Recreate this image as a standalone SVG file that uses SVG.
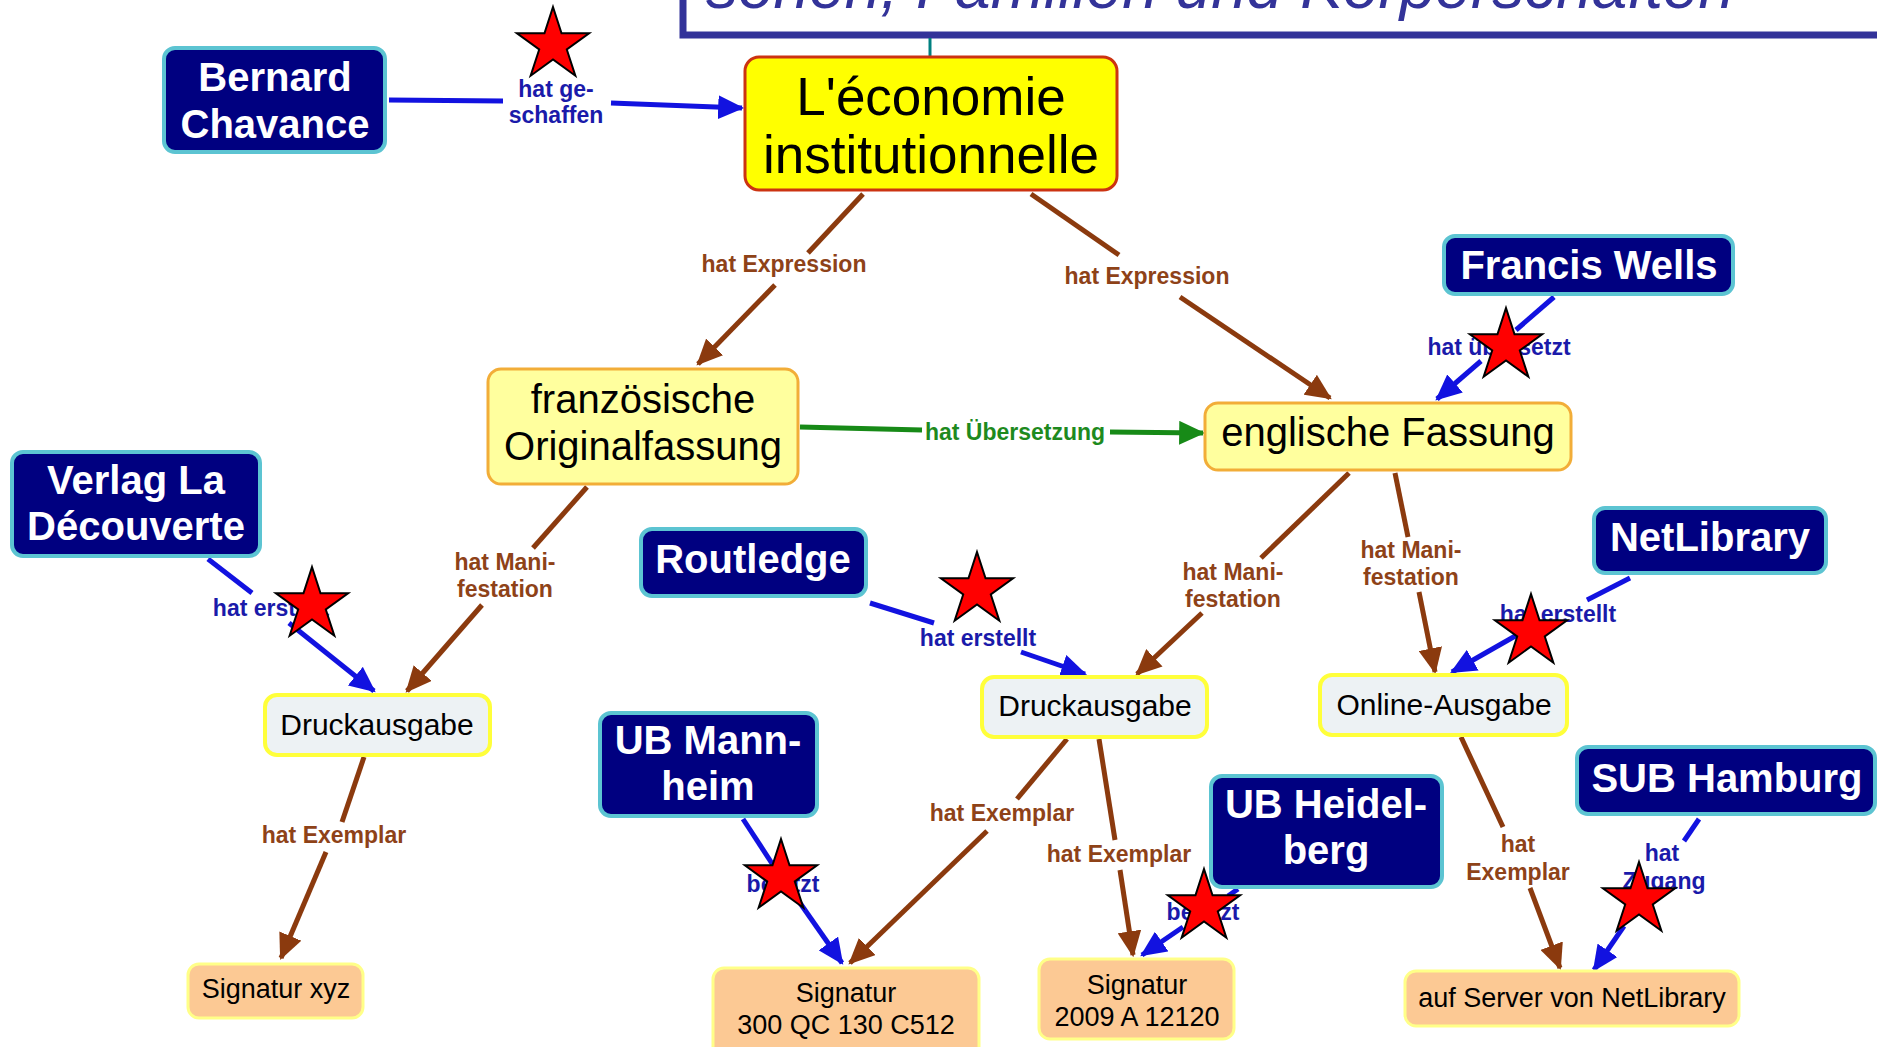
<svg xmlns="http://www.w3.org/2000/svg" width="1877" height="1047" viewBox="0 0 1877 1047">
<defs>
<style>
.dk{fill:#000080;stroke:#5cc4d2;stroke-width:4}
.dkt{fill:#ffffff;font-family:"Liberation Sans",Arial,sans-serif;font-weight:bold;font-size:40px;text-anchor:middle}
.yl{fill:#ffff9e;stroke:#f2ad38;stroke-width:3}
.ylt{fill:#000;font-family:"Liberation Sans",Arial,sans-serif;font-size:40px;text-anchor:middle}
.gr{fill:#edf2f4;stroke:#ffff3a;stroke-width:4}
.grt{fill:#000;font-family:"Liberation Sans",Arial,sans-serif;font-size:30px;text-anchor:middle}
.pc{fill:#fcc994;stroke:#ffff88;stroke-width:3}
.pct{fill:#000;font-family:"Liberation Sans",Arial,sans-serif;font-size:27px;text-anchor:middle}
.lb{fill:none;stroke:#8b3a0e;stroke-width:5}
.lu{fill:none;stroke:#1212e0;stroke-width:5}
.lg{fill:none;stroke:#178a17;stroke-width:5}
.tb{fill:#8e4218;font-family:"Liberation Sans",Arial,sans-serif;font-weight:bold;font-size:23px;text-anchor:middle}
.tu{fill:#1a1aaa;font-family:"Liberation Sans",Arial,sans-serif;font-weight:bold;font-size:23px;text-anchor:middle}
.tg{fill:#1e8a1e;font-family:"Liberation Sans",Arial,sans-serif;font-weight:bold;font-size:23px;text-anchor:middle}
.star{fill:#ff0000;stroke:#000;stroke-width:2}
</style>
<marker id="ab" viewBox="0 0 24 22" refX="22" refY="11" markerWidth="26" markerHeight="24" markerUnits="userSpaceOnUse" orient="auto"><path d="M0,0 L24,11 L0,22 Z" fill="#8b3a0e"/></marker>
<marker id="au" viewBox="0 0 24 22" refX="22" refY="11" markerWidth="26" markerHeight="24" markerUnits="userSpaceOnUse" orient="auto"><path d="M0,0 L24,11 L0,22 Z" fill="#1212e0"/></marker>
<marker id="ag" viewBox="0 0 24 22" refX="22" refY="11" markerWidth="26" markerHeight="24" markerUnits="userSpaceOnUse" orient="auto"><path d="M0,0 L24,11 L0,22 Z" fill="#178a17"/></marker>
<polygon id="st" class="star" points="0,-38 8.52,-11.73 36.14,-11.74 13.79,4.48 22.34,30.74 0,14.5 -22.34,30.74 -13.79,4.48 -36.14,-11.74 -8.52,-11.73"/>
</defs>
<rect width="1877" height="1047" fill="#ffffff"/>

<g id="header">
<rect x="683" y="-60" width="1260" height="95" fill="#ffffff" stroke="#333399" stroke-width="7"/>
<text x="706" y="8" fill="#333399" font-family="'Liberation Sans',Arial,sans-serif" font-style="italic" font-size="64">sonen, Familien und Körperschaften</text>
</g>

<g id="connectors">
<line x1="930" y1="38" x2="930" y2="57" stroke="#008080" stroke-width="3"/>
<path class="lu" d="M389,100 L503,101"/>
<path class="lu" d="M611,103 L742,108" marker-end="url(#au)"/>
<text class="tu" x="556" y="97">hat ge-</text>
<text class="tu" x="556" y="123">schaffen</text>
<path class="lb" d="M863,194 L808,253"/>
<path class="lb" d="M775,285 L698,364" marker-end="url(#ab)"/>
<text class="tb" x="784" y="272">hat Expression</text>
<path class="lb" d="M1031,194 L1119,255"/>
<path class="lb" d="M1180,297 L1330,398" marker-end="url(#ab)"/>
<text class="tb" x="1147" y="284">hat Expression</text>
<path class="lg" d="M800,427 L922,430"/>
<path class="lg" d="M1110,432 L1203,433" marker-end="url(#ag)"/>
<text class="tg" x="1015" y="440">hat Übersetzung</text>
<path class="lu" d="M1554,297 L1516,330"/>
<path class="lu" d="M1481,361 L1437,399" marker-end="url(#au)"/>
<text class="tu" x="1499" y="355">hat übersetzt</text>
<path class="lb" d="M587,487 L533,548"/>
<path class="lb" d="M482,605 L407,691" marker-end="url(#ab)"/>
<text class="tb" x="505" y="570">hat Mani-</text>
<text class="tb" x="505" y="597">festation</text>
<path class="lu" d="M208,559 L252,593"/>
<path class="lu" d="M289,623 L374,691" marker-end="url(#au)"/>
<text class="tu" x="271" y="616">hat erstellt</text>
<path class="lb" d="M1349,473 L1261,558"/>
<path class="lb" d="M1202,613 L1137,674" marker-end="url(#ab)"/>
<text class="tb" x="1233" y="580">hat Mani-</text>
<text class="tb" x="1233" y="607">festation</text>
<path class="lb" d="M1395,473 L1408,537"/>
<path class="lb" d="M1419,592 L1435,672" marker-end="url(#ab)"/>
<text class="tb" x="1411" y="558">hat Mani-</text>
<text class="tb" x="1411" y="585">festation</text>
<path class="lu" d="M870,603 L934,623"/>
<path class="lu" d="M1021,652 L1085,674" marker-end="url(#au)"/>
<text class="tu" x="978" y="646">hat erstellt</text>
<path class="lu" d="M1630,578 L1587,600"/>
<path class="lu" d="M1517,635 L1452,672" marker-end="url(#au)"/>
<text class="tu" x="1558" y="622">hat erstellt</text>
<path class="lb" d="M364,757 L342,822"/>
<path class="lb" d="M326,852 L281,958" marker-end="url(#ab)"/>
<text class="tb" x="334" y="843">hat Exemplar</text>
<path class="lb" d="M1067,739 L1017,799"/>
<path class="lb" d="M987,831 L850,963" marker-end="url(#ab)"/>
<text class="tb" x="1002" y="821">hat Exemplar</text>
<path class="lb" d="M1099,739 L1115,840"/>
<path class="lb" d="M1120,870 L1133,955" marker-end="url(#ab)"/>
<text class="tb" x="1119" y="862">hat Exemplar</text>
<path class="lu" d="M743,819 L773,865"/>
<path class="lu" d="M800,903 L842,963" marker-end="url(#au)"/>
<text class="tu" x="783" y="892">besitzt</text>
<path class="lu" d="M1238,889 L1228,896"/>
<path class="lu" d="M1183,927 L1142,955" marker-end="url(#au)"/>
<text class="tu" x="1203" y="920">besitzt</text>
<path class="lb" d="M1461,737 L1503,827"/>
<path class="lb" d="M1530,888 L1560,968" marker-end="url(#ab)"/>
<text class="tb" x="1518" y="852">hat</text>
<text class="tb" x="1518" y="880">Exemplar</text>
<path class="lu" d="M1699,819 L1684,841"/>
<path class="lu" d="M1624,926 L1594,970" marker-end="url(#au)"/>
<text class="tu" x="1662" y="861">hat</text>
<text class="tu" x="1664" y="889">Zugang</text>
</g>

<g id="n-economie">
<rect x="745" y="57" width="372" height="133" rx="14" fill="#ffff00" stroke="#cc3311" stroke-width="3"/>
<text x="931" y="115" fill="#000" font-family="'Liberation Sans',Arial,sans-serif" font-size="53" text-anchor="middle">L'économie</text>
<text x="931" y="173" fill="#000" font-family="'Liberation Sans',Arial,sans-serif" font-size="53" text-anchor="middle">institutionnelle</text>
</g>
<g id="n-bernard"><rect class="dk" x="164" y="48" width="221" height="104" rx="11"/><text class="dkt" x="275" y="91">Bernard</text><text class="dkt" x="275" y="138">Chavance</text></g>
<g id="n-franz"><rect class="yl" x="488" y="369" width="310" height="115" rx="13"/><text class="ylt" x="643" y="413">französische</text><text class="ylt" x="643" y="460">Originalfassung</text></g>
<g id="n-engl"><rect class="yl" x="1205" y="403" width="366" height="67" rx="13"/><text class="ylt" x="1388" y="446">englische Fassung</text></g>
<g id="n-francis"><rect class="dk" x="1444" y="236" width="289" height="58" rx="11"/><text class="dkt" x="1589" y="279">Francis Wells</text></g>
<g id="n-verlag"><rect class="dk" x="12" y="452" width="248" height="104" rx="11"/><text class="dkt" x="136" y="494">Verlag La</text><text class="dkt" x="136" y="540">Découverte</text></g>
<g id="n-routledge"><rect class="dk" x="641" y="529" width="225" height="67" rx="11"/><text class="dkt" x="753" y="573">Routledge</text></g>
<g id="n-netlibrary"><rect class="dk" x="1594" y="508" width="232" height="65" rx="11"/><text class="dkt" x="1710" y="551">NetLibrary</text></g>
<g id="n-druck1"><rect class="gr" x="265" y="695" width="225" height="60" rx="12"/><text class="grt" x="377" y="735">Druckausgabe</text></g>
<g id="n-druck2"><rect class="gr" x="982" y="677" width="225" height="60" rx="12"/><text class="grt" x="1095" y="716">Druckausgabe</text></g>
<g id="n-online"><rect class="gr" x="1320" y="675" width="247" height="60" rx="12"/><text class="grt" x="1444" y="715">Online-Ausgabe</text></g>
<g id="n-mannheim"><rect class="dk" x="600" y="713" width="217" height="103" rx="11"/><text class="dkt" x="708" y="754">UB Mann-</text><text class="dkt" x="708" y="800">heim</text></g>
<g id="n-heidelberg"><rect class="dk" x="1211" y="776" width="231" height="111" rx="11"/><text class="dkt" x="1326" y="818">UB Heidel-</text><text class="dkt" x="1326" y="864">berg</text></g>
<g id="n-hamburg"><rect class="dk" x="1577" y="747" width="298" height="67" rx="11"/><text class="dkt" x="1727" y="792">SUB Hamburg</text></g>
<g id="n-sigxyz"><rect class="pc" x="188" y="964" width="175" height="54" rx="11"/><text class="pct" x="276" y="998">Signatur xyz</text></g>
<g id="n-sig300"><rect class="pc" x="713" y="968" width="266" height="90" rx="11"/><text class="pct" x="846" y="1002">Signatur</text><text class="pct" x="846" y="1034">300 QC 130 C512</text></g>
<g id="n-sig2009"><rect class="pc" x="1039" y="959" width="195" height="80" rx="11"/><text class="pct" x="1137" y="994">Signatur</text><text class="pct" x="1137" y="1026">2009 A 12120</text></g>
<g id="n-server"><rect class="pc" x="1405" y="971" width="334" height="55" rx="11"/><text class="pct" x="1572" y="1007">auf Server von NetLibrary</text></g>

<g id="stars">
<use href="#st" x="553" y="45"/>
<use href="#st" x="1506" y="346"/>
<use href="#st" x="312" y="605"/>
<use href="#st" x="977" y="590"/>
<use href="#st" x="1531" y="632"/>
<use href="#st" x="781" y="877"/>
<use href="#st" x="1204" y="907"/>
<use href="#st" x="1639" y="900"/>
</g>
</svg>
